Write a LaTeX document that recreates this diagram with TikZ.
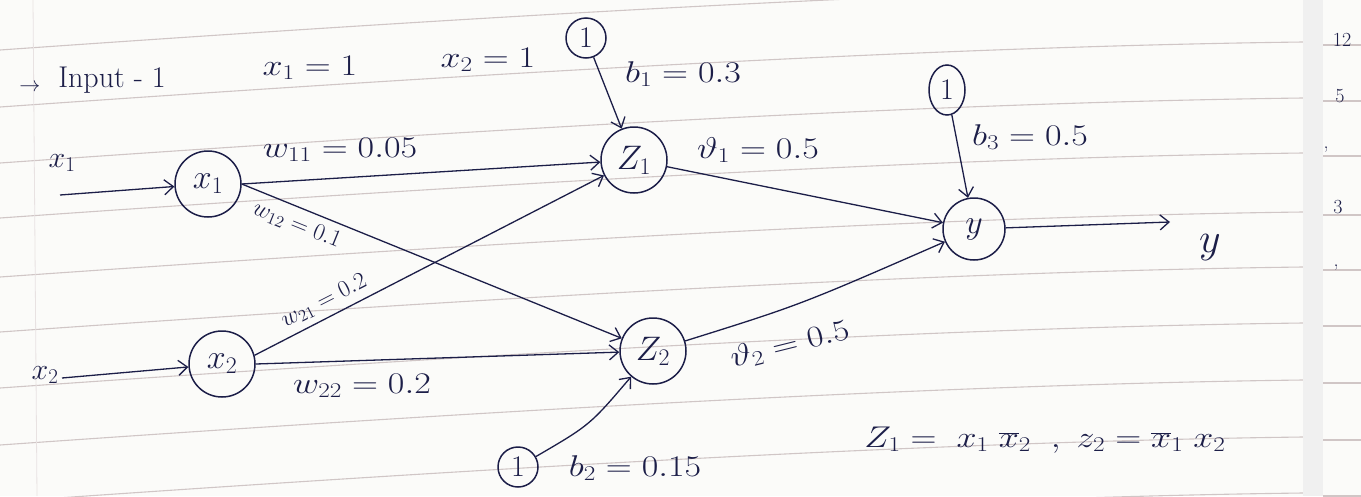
\RequirePackage{fix-cm}
\documentclass[tikz,border=0pt]{standalone}
\usetikzlibrary{arrows.meta,shapes.geometric}
\definecolor{ink}{RGB}{28,30,72}
\definecolor{ruleclr}{RGB}{208,198,198}
\definecolor{paper}{RGB}{251,251,249}
\newcommand{\hw}[1]{\scalebox{1.2}[1]{#1}}
\begin{document}
\begin{tikzpicture}[x=1pt,y=-1pt,
  neuron/.style={circle,draw=ink,line width=1.5pt,minimum size=66pt,inner sep=0pt,text=ink,font=\fontsize{34}{38}\selectfont},
  biasnode/.style={circle,draw=ink,line width=1.5pt,minimum size=40pt,inner sep=0pt,text=ink,font=\fontsize{30}{34}\selectfont},
  biasoval/.style={ellipse,draw=ink,line width=1.5pt,minimum width=36pt,minimum height=50pt,inner sep=0pt,text=ink,font=\fontsize{30}{34}\selectfont},
  lbl/.style={text=ink,font=\fontsize{30}{34}\selectfont,inner sep=1pt},
  slbl/.style={text=ink,font=\fontsize{24}{27}\selectfont,inner sep=0pt},
  marg/.style={text=ink,font=\fontsize{20}{24}\selectfont,inner sep=0pt},
  conn/.style={draw=ink,line width=1.3pt,-{Straight Barb[length=9pt,width=15pt,line width=1.3pt]}},
  ruling/.style={draw=ruleclr,line width=1.1pt}
]
\useasboundingbox (0,0) rectangle (1361,496);
\clip (0,0) rectangle (1361,496);
\fill[paper] (0,0) rectangle (1361,496);
% ruled paper
\foreach \b in {50,107,163,218,277,332,388,445,502,558}{
  \draw[ruling] (0,\b) .. controls (400,{\b-28}) and (900,{\b-60}) .. (1303,{\b-65});
  \draw[ruling] (1323,{\b-62}) -- (1361,{\b-62});
}
\fill[gray!12] (1303,0) rectangle (1323,496);
\draw[ruleclr!50,line width=0.8pt] (33,0) -- (37,496);

% neurons
\node[neuron] (x1) at (208,184) {$x_1$};
\node[neuron] (x2) at (222,364) {$x_2$};
\node[neuron] (z1) at (634,160) {$Z_1$};
\node[neuron] (z2) at (653,351) {$Z_2$};
\node[neuron,minimum size=62pt] (y) at (974,229) {$y$};
\node[biasnode] (b1) at (586,38) {1};
\node[biasnode] (b2) at (518,467) {1};
\node[biasoval] (b3) at (947,90) {1};

\coordinate (i1) at (60,195);
\coordinate (i2) at (62,378);
\coordinate (o) at (1170,222);

% texts
\node[lbl] (arr) at (30,88) {$\scriptstyle\rightarrow$};
\node[lbl] (tin) at (112,80) {Input - 1};
\node[lbl] (tx1) at (310,68) {\hw{$x_1 = 1$}};
\node[lbl] (tx2) at (488,60) {\hw{$x_2 = 1$}};
\node[lbl] (lb1) at (683,74) {\hw{$b_1 = 0.3$}};
\node[lbl] (lb3) at (1030,137) {\hw{$b_3 = 0.5$}};
\node[lbl] (lb2) at (635,468) {\hw{$b_2 = 0.15$}};
\node[lbl] (lw11) at (340,150) {\hw{$w_{11} = 0.05$}};
\node[slbl,rotate=-22] (lw12) at (297,225) {$w_{12} = 0.1$};
\node[slbl,rotate=27] (lw21) at (324,301) {$w_{21} = 0.2$};
\node[lbl] (lw22) at (362,386) {\hw{$w_{22} = 0.2$}};
\node[lbl] (lv1) at (758,150) {\hw{$\vartheta_1 = 0.5$}};
\node[lbl,rotate=14] (lv2) at (790,345) {\hw{$\vartheta_2 = 0.5$}};
\node[lbl,font=\fontsize{42}{46}\selectfont] (ly) at (1210,248) {$y$};
\node[lbl] (lin1) at (62,163) {$x_1$};
\node[lbl] (lin2) at (45,375) {$x_2$};
\node[lbl] (eq) at (1045,440) {\hw{$Z_1 = \; x_1\;\overline{x}_2\;\;,\; z_2 = \overline{x}_1\; x_2$}};

% margin marks
\node[marg] (m1) at (1342,40) {12};
\node[marg] (m2) at (1340,96) {5};
\node[marg] (m3) at (1326,150) {,};
\node[marg] (m4) at (1338,207) {3};
\node[marg] (m5) at (1336,268) {,};

% connections
\draw[conn] (i1) -- (x1);
\draw[conn] (i2) -- (x2);
\draw[conn] (x1.east) -- (z1);
\draw[conn] (x1.east) -- (z2);
\draw[conn] (x2.15) -- (z1);
\draw[conn] (x2.east) -- (z2);
\draw[conn] (b1) -- (z1);
\draw[conn] (b2) .. controls (590,425) .. (z2);
\draw[conn] (b3) -- (y);
\draw[conn] (z1) -- (y);
\draw[conn] (z2) .. controls (800,305) .. (y);
\draw[conn] (y) -- (o);
\end{tikzpicture}
\end{document}
